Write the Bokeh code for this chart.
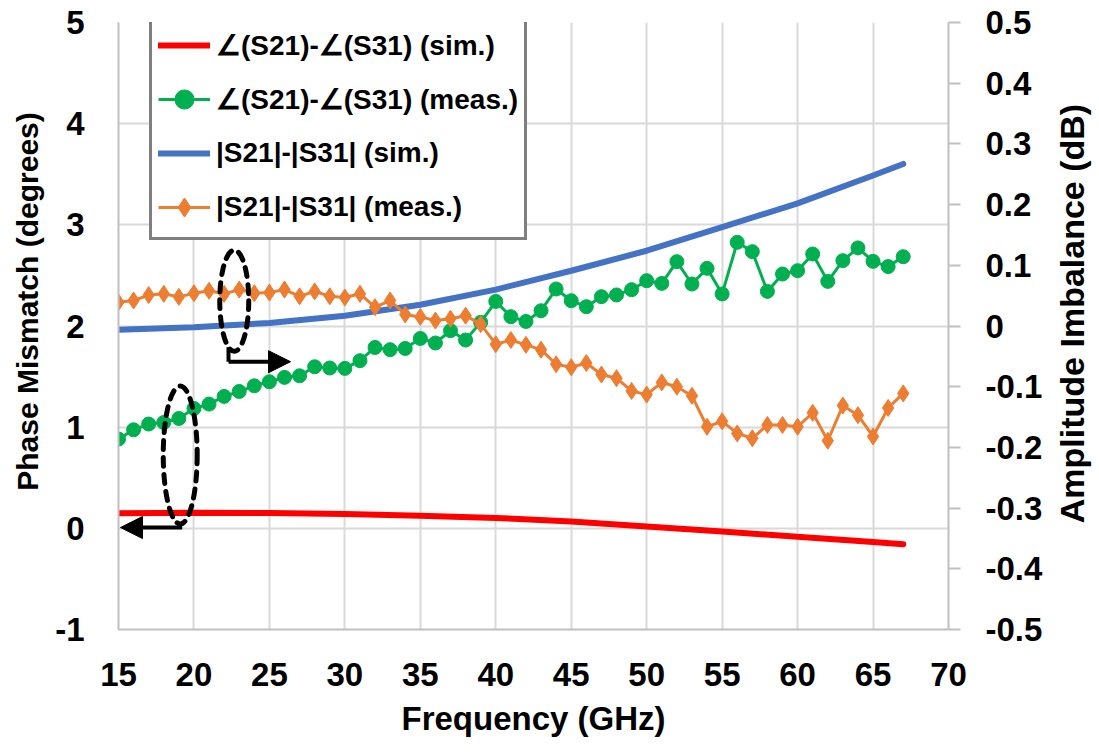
import math
from bokeh.plotting import figure
from bokeh.layouts import row
from bokeh.models import (Range1d, LinearAxis, FixedTicker, Legend, LegendItem, Arrow,
                          NormalHead, Label)
from bokeh.embed import file_html
from bokeh.resources import INLINE

# ---------------- data ----------------
freq_meas = list(range(15, 68))
phase_meas = [0.882, 0.974, 1.031, 1.046, 1.086, 1.185, 1.228, 1.304, 1.353, 1.409,
              1.449, 1.492, 1.508, 1.597, 1.585, 1.581, 1.657, 1.788, 1.766, 1.778,
              1.877, 1.832, 1.954, 1.861, 2.036, 2.243, 2.092, 2.045, 2.151, 2.366,
              2.250, 2.191, 2.290, 2.307, 2.359, 2.448, 2.421, 2.636, 2.415, 2.570,
              2.317, 2.827, 2.735, 2.342, 2.514, 2.547, 2.712, 2.441, 2.646, 2.772,
              2.639, 2.587, 2.685]
amp_meas = [0.039, 0.042, 0.051, 0.053, 0.048, 0.054, 0.058, 0.053, 0.060, 0.054,
            0.055, 0.060, 0.049, 0.057, 0.049, 0.047, 0.053, 0.031, 0.042, 0.019,
            0.015, 0.009, 0.012, 0.017, 0.003, -0.030, -0.023, -0.031, -0.039, -0.063,
            -0.068, -0.061, -0.080, -0.086, -0.107, -0.113, -0.093, -0.100, -0.115, -0.166,
            -0.157, -0.177, -0.185, -0.163, -0.163, -0.166, -0.143, -0.189, -0.131, -0.147,
            -0.182, -0.135, -0.111]
freq_sim = [15, 20, 25, 30, 35, 40, 45, 50, 55, 60, 65, 67]
phase_sim = [0.150, 0.155, 0.152, 0.142, 0.125, 0.103, 0.067, 0.018, -0.032, -0.084, -0.134, -0.157]
amp_sim = [-0.006, -0.002, 0.005, 0.017, 0.035, 0.060, 0.091, 0.124, 0.163, 0.202, 0.248, 0.267]

x_ticks = [15, 20, 25, 30, 35, 40, 45, 50, 55, 60, 65, 70]
left_ticks = [-1, 0, 1, 2, 3, 4, 5]
left_tick_labels = ["-1", "0", "1", "2", "3", "4", "5"]
right_ticks = [-0.5, -0.4, -0.3, -0.2, -0.1, 0.0, 0.1, 0.2, 0.3, 0.4, 0.5]
right_tick_labels = ["-0.5", "-0.4", "-0.3", "-0.2", "-0.1", "0", "0.1", "0.2", "0.3", "0.4", "0.5"]

x_title = "Frequency (GHz)"
left_title = "Phase Mismatch (degrees)"
right_title = "Amplitude Imbalance (dB)"
legend_labels = ["\u2220(S21)-\u2220(S31) (sim.)", "\u2220(S21)-\u2220(S31) (meas.)",
                 "|S21|-|S31| (sim.)", "|S21|-|S31| (meas.)"]

# ---------------- styling ----------------
FONT = "Liberation Sans"
RED, GREEN, BLUE, ORANGE = "#FF0000", "#00B050", "#4472C4", "#ED7D31"
GRID = "#d9d9d9"
AXIS = "#bfbfbf"
H = 745          # common height of all three panels
LEFT_W = 50      # width of the strip holding the left title
RIGHT_W = 50     # width of the strip holding the right title

p = figure(frame_width=830, frame_height=607,
           min_border_left=118 - LEFT_W, min_border_right=97, min_border_top=22, min_border_bottom=116,
           x_range=Range1d(15, 70), y_range=Range1d(-1, 5),
           output_backend="svg", toolbar_location=None)
p.extra_y_ranges = {"amp": Range1d(-0.5, 0.5)}
p.outline_line_color = None
p.background_fill_color = "white"
p.border_fill_color = "white"

p.xgrid.ticker = FixedTicker(ticks=x_ticks)
p.ygrid.ticker = FixedTicker(ticks=left_ticks)
for g in (p.xgrid, p.ygrid):
    g.grid_line_color = GRID
    g.grid_line_width = 2

def style_axis(ax):
    ax.major_label_text_font = FONT
    ax.major_label_text_font_size = "33px"
    ax.major_label_text_font_style = "bold"
    ax.major_label_text_color = "black"
    ax.axis_label_text_font = FONT
    ax.axis_label_text_font_size = "33px"
    ax.axis_label_text_font_style = "bold"
    ax.axis_label_text_color = "black"
    ax.axis_line_color = AXIS
    ax.axis_line_width = 2
    ax.minor_tick_line_color = None

xa = p.xaxis[0]
xa.ticker = FixedTicker(ticks=x_ticks)
style_axis(xa)
xa.major_tick_line_color = None
xa.major_tick_out = 0
xa.major_tick_in = 0
xa.major_label_standoff = 33
xa.axis_label = x_title
xa.axis_label_standoff = 11

ya = p.yaxis[0]
ya.ticker = FixedTicker(ticks=left_ticks)
ya.major_label_overrides = {t: l for t, l in zip(left_ticks, left_tick_labels)}
style_axis(ya)
ya.major_tick_line_color = None
ya.major_tick_out = 0
ya.major_tick_in = 0
ya.major_label_standoff = 34

ra = LinearAxis(y_range_name="amp", ticker=FixedTicker(ticks=right_ticks),
                major_label_overrides={t: l for t, l in zip(right_ticks, right_tick_labels)})
style_axis(ra)
ra.major_tick_line_color = AXIS
ra.major_tick_line_width = 2
ra.major_tick_out = 12
ra.major_tick_in = 0
ra.major_label_standoff = 25
p.add_layout(ra, "right")

# ---------------- series ----------------
r_red = p.line(freq_sim, phase_sim, line_color=RED, line_width=6, line_cap="round")
r_blue = p.line(freq_sim, amp_sim, line_color=BLUE, line_width=6, line_cap="round", y_range_name="amp")
g_line = p.line(freq_meas, phase_meas, line_color=GREEN, line_width=3)
g_pts = p.scatter(freq_meas, phase_meas, marker="circle", size=14, fill_color=GREEN, line_color=GREEN)
o_line = p.line(freq_meas, amp_meas, line_color=ORANGE, line_width=3, y_range_name="amp")
o_pts = p.scatter(freq_meas, amp_meas, marker="diamond", size=17,
                  fill_color=ORANGE, line_color=ORANGE, y_range_name="amp")

# ---------------- annotations (dashed ellipses + arrows) ----------------
p.ellipse(x=[22.67, 19.09], y=[2.25, 0.725], width=[1.92, 2.25], height=[1.0, 1.365],
          fill_alpha=0, line_color="black", line_width=5, line_dash="9 8", line_cap="round")
p.segment(x0=[22.29], y0=[1.79], x1=[22.29], y1=[1.647], line_color="black", line_width=4)
p.add_layout(Arrow(end=NormalHead(size=22, fill_color="black", line_color="black"),
                   x_start=22.29, y_start=1.647, x_end=26.4, y_end=1.647,
                   line_color="black", line_width=4))
p.add_layout(Arrow(end=NormalHead(size=22, fill_color="black", line_color="black"),
                   x_start=19.22, y_start=0.008, x_end=15.13, y_end=0.008,
                   line_color="black", line_width=4))

# ---------------- legend ----------------
legend = Legend(items=[
    LegendItem(label=legend_labels[0], renderers=[r_red]),
    LegendItem(label=legend_labels[1], renderers=[g_line, g_pts]),
    LegendItem(label=legend_labels[2], renderers=[r_blue]),
    LegendItem(label=legend_labels[3], renderers=[o_line, o_pts]),
], location=(31, 389))
legend.border_line_color = "black"
legend.border_line_width = 3
legend.background_fill_color = "white"
legend.background_fill_alpha = 1
legend.padding = 6
legend.spacing = 6
legend.margin = 0
legend.glyph_width = 52
legend.glyph_height = 48
legend.label_height = 48
legend.label_standoff = 6
legend.label_text_font = FONT
legend.label_text_font_size = "28px"
legend.label_text_font_style = "bold"
legend.label_text_color = "black"
p.add_layout(legend, "center")

# ---------------- side strips carrying the vertical axis titles ----------------
# (their plotting frames are aligned with the main frame: 22 px .. 629 px from the top)
FRAME_BOTTOM = 629

def title_strip(width, text, cx, cy_from_top, size):
    s = figure(width=width, height=H, min_border=0, x_axis_location=None, y_axis_location=None,
               x_range=Range1d(0, width), y_range=Range1d(0, H),
               output_backend="svg", toolbar_location=None)
    s.outline_line_color = None
    s.grid.visible = False
    s.background_fill_color = "white"
    s.border_fill_color = "white"
    s.add_layout(Label(x=cx, y=FRAME_BOTTOM - cy_from_top, x_units="screen", y_units="screen",
                       text=text, angle=math.pi / 2, text_align="center", text_baseline="middle",
                       text_font=FONT, text_font_size=size, text_font_style="bold",
                       text_color="black"))
    return s

left_strip = title_strip(LEFT_W, left_title, 27, 301, "30px")
right_strip = title_strip(RIGHT_W, right_title, 1071 - (118 + 830 + 97), 313, "34px")

layout = row(left_strip, p, right_strip, spacing=0)
open("out.html", "w").write(file_html(layout, INLINE))
